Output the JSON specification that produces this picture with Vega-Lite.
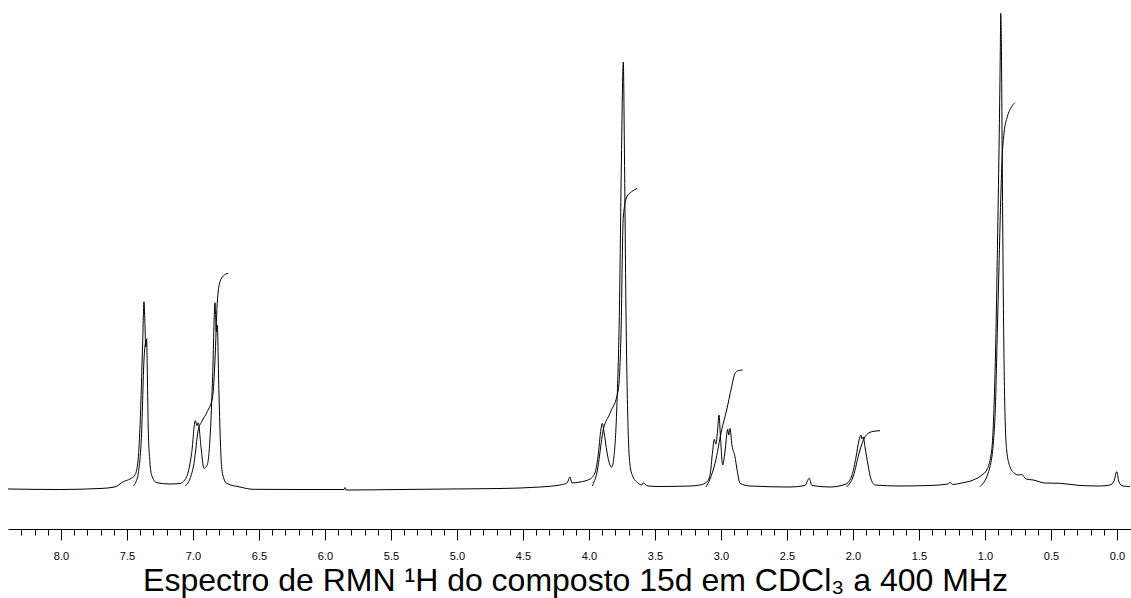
{
  "$schema": "https://vega.github.io/schema/vega-lite/v6.json",
  "width": 1123,
  "height": 529,
  "autosize": {"type": "none"},
  "padding": {"left": 8, "top": 0, "right": 0, "bottom": 69},
  "background": "white",
  "config": {"view": {"stroke": null}, "font": "Liberation Sans"},
  "data": {
    "values": [
      {"trace": "spectrum", "ppm": 8.401, "intensity": -2},
      {"trace": "spectrum", "ppm": 8.008, "intensity": -2.5},
      {"trace": "spectrum", "ppm": 7.704, "intensity": -1.5},
      {"trace": "spectrum", "ppm": 7.591, "intensity": 0},
      {"trace": "spectrum", "ppm": 7.528, "intensity": 5.3},
      {"trace": "spectrum", "ppm": 7.477, "intensity": 8},
      {"trace": "spectrum", "ppm": 7.439, "intensity": 12},
      {"trace": "spectrum", "ppm": 7.417, "intensity": 25},
      {"trace": "spectrum", "ppm": 7.401, "intensity": 60},
      {"trace": "spectrum", "ppm": 7.381, "intensity": 143.7},
      {"trace": "spectrum", "ppm": 7.371, "intensity": 185.3},
      {"trace": "spectrum", "ppm": 7.364, "intensity": 165},
      {"trace": "spectrum", "ppm": 7.358, "intensity": 140},
      {"trace": "spectrum", "ppm": 7.351, "intensity": 147.7},
      {"trace": "spectrum", "ppm": 7.345, "intensity": 110},
      {"trace": "spectrum", "ppm": 7.339, "intensity": 60},
      {"trace": "spectrum", "ppm": 7.326, "intensity": 25},
      {"trace": "spectrum", "ppm": 7.313, "intensity": 12},
      {"trace": "spectrum", "ppm": 7.275, "intensity": 4.3},
      {"trace": "spectrum", "ppm": 7.174, "intensity": 3},
      {"trace": "spectrum", "ppm": 7.098, "intensity": 3.5},
      {"trace": "spectrum", "ppm": 7.048, "intensity": 10.3},
      {"trace": "spectrum", "ppm": 7.010, "intensity": 33.7},
      {"trace": "spectrum", "ppm": 6.982, "intensity": 66.3},
      {"trace": "spectrum", "ppm": 6.970, "intensity": 61.3},
      {"trace": "spectrum", "ppm": 6.960, "intensity": 64.3},
      {"trace": "spectrum", "ppm": 6.939, "intensity": 40.3},
      {"trace": "spectrum", "ppm": 6.917, "intensity": 18.7},
      {"trace": "spectrum", "ppm": 6.892, "intensity": 22},
      {"trace": "spectrum", "ppm": 6.866, "intensity": 60.3},
      {"trace": "spectrum", "ppm": 6.851, "intensity": 110.3},
      {"trace": "spectrum", "ppm": 6.833, "intensity": 184.3},
      {"trace": "spectrum", "ppm": 6.823, "intensity": 155.3},
      {"trace": "spectrum", "ppm": 6.816, "intensity": 162},
      {"trace": "spectrum", "ppm": 6.803, "intensity": 93.7},
      {"trace": "spectrum", "ppm": 6.783, "intensity": 20.3},
      {"trace": "spectrum", "ppm": 6.765, "intensity": 8},
      {"trace": "spectrum", "ppm": 6.745, "intensity": 3.7},
      {"trace": "spectrum", "ppm": 6.644, "intensity": 0},
      {"trace": "spectrum", "ppm": 6.543, "intensity": -2.3},
      {"trace": "spectrum", "ppm": 6.189, "intensity": -2.5},
      {"trace": "spectrum", "ppm": 5.856, "intensity": -2.5},
      {"trace": "spectrum", "ppm": 5.848, "intensity": -0.5},
      {"trace": "spectrum", "ppm": 5.841, "intensity": -3},
      {"trace": "spectrum", "ppm": 5.432, "intensity": -2.5},
      {"trace": "spectrum", "ppm": 5.053, "intensity": -2},
      {"trace": "spectrum", "ppm": 4.674, "intensity": -1.5},
      {"trace": "spectrum", "ppm": 4.371, "intensity": 0},
      {"trace": "spectrum", "ppm": 4.220, "intensity": 2},
      {"trace": "spectrum", "ppm": 4.167, "intensity": 4},
      {"trace": "spectrum", "ppm": 4.144, "intensity": 10},
      {"trace": "spectrum", "ppm": 4.129, "intensity": 4},
      {"trace": "spectrum", "ppm": 4.068, "intensity": 5},
      {"trace": "spectrum", "ppm": 3.992, "intensity": 8},
      {"trace": "spectrum", "ppm": 3.955, "intensity": 14},
      {"trace": "spectrum", "ppm": 3.932, "intensity": 30},
      {"trace": "spectrum", "ppm": 3.909, "intensity": 58},
      {"trace": "spectrum", "ppm": 3.899, "intensity": 63.7},
      {"trace": "spectrum", "ppm": 3.886, "intensity": 55},
      {"trace": "spectrum", "ppm": 3.864, "intensity": 35},
      {"trace": "spectrum", "ppm": 3.841, "intensity": 22},
      {"trace": "spectrum", "ppm": 3.828, "intensity": 19.7},
      {"trace": "spectrum", "ppm": 3.811, "intensity": 30},
      {"trace": "spectrum", "ppm": 3.789, "intensity": 80},
      {"trace": "spectrum", "ppm": 3.769, "intensity": 180},
      {"trace": "spectrum", "ppm": 3.754, "intensity": 330},
      {"trace": "spectrum", "ppm": 3.740, "intensity": 425},
      {"trace": "spectrum", "ppm": 3.731, "intensity": 330},
      {"trace": "spectrum", "ppm": 3.720, "intensity": 180},
      {"trace": "spectrum", "ppm": 3.704, "intensity": 60},
      {"trace": "spectrum", "ppm": 3.689, "intensity": 22},
      {"trace": "spectrum", "ppm": 3.666, "intensity": 10},
      {"trace": "spectrum", "ppm": 3.628, "intensity": 4},
      {"trace": "spectrum", "ppm": 3.600, "intensity": 2},
      {"trace": "spectrum", "ppm": 3.589, "intensity": 4},
      {"trace": "spectrum", "ppm": 3.553, "intensity": 1},
      {"trace": "spectrum", "ppm": 3.462, "intensity": 0.5},
      {"trace": "spectrum", "ppm": 3.235, "intensity": 1},
      {"trace": "spectrum", "ppm": 3.159, "intensity": 2},
      {"trace": "spectrum", "ppm": 3.108, "intensity": 5},
      {"trace": "spectrum", "ppm": 3.083, "intensity": 12},
      {"trace": "spectrum", "ppm": 3.064, "intensity": 35},
      {"trace": "spectrum", "ppm": 3.051, "intensity": 47.7},
      {"trace": "spectrum", "ppm": 3.038, "intensity": 43},
      {"trace": "spectrum", "ppm": 3.027, "intensity": 55},
      {"trace": "spectrum", "ppm": 3.015, "intensity": 72},
      {"trace": "spectrum", "ppm": 3.004, "intensity": 50},
      {"trace": "spectrum", "ppm": 2.987, "intensity": 22},
      {"trace": "spectrum", "ppm": 2.970, "intensity": 35},
      {"trace": "spectrum", "ppm": 2.949, "intensity": 57.7},
      {"trace": "spectrum", "ppm": 2.941, "intensity": 52},
      {"trace": "spectrum", "ppm": 2.932, "intensity": 58.7},
      {"trace": "spectrum", "ppm": 2.917, "intensity": 42},
      {"trace": "spectrum", "ppm": 2.894, "intensity": 30.3},
      {"trace": "spectrum", "ppm": 2.879, "intensity": 18},
      {"trace": "spectrum", "ppm": 2.856, "intensity": 3.7},
      {"trace": "spectrum", "ppm": 2.780, "intensity": 1},
      {"trace": "spectrum", "ppm": 2.477, "intensity": 0},
      {"trace": "spectrum", "ppm": 2.364, "intensity": 1.5},
      {"trace": "spectrum", "ppm": 2.331, "intensity": 8.7},
      {"trace": "spectrum", "ppm": 2.311, "intensity": 1.5},
      {"trace": "spectrum", "ppm": 2.174, "intensity": 0},
      {"trace": "spectrum", "ppm": 2.053, "intensity": 3},
      {"trace": "spectrum", "ppm": 2.007, "intensity": 12},
      {"trace": "spectrum", "ppm": 1.977, "intensity": 30},
      {"trace": "spectrum", "ppm": 1.954, "intensity": 47},
      {"trace": "spectrum", "ppm": 1.939, "intensity": 52},
      {"trace": "spectrum", "ppm": 1.932, "intensity": 48},
      {"trace": "spectrum", "ppm": 1.922, "intensity": 50},
      {"trace": "spectrum", "ppm": 1.909, "intensity": 40},
      {"trace": "spectrum", "ppm": 1.886, "intensity": 22},
      {"trace": "spectrum", "ppm": 1.864, "intensity": 8},
      {"trace": "spectrum", "ppm": 1.833, "intensity": 2},
      {"trace": "spectrum", "ppm": 1.644, "intensity": 1},
      {"trace": "spectrum", "ppm": 1.417, "intensity": 1.5},
      {"trace": "spectrum", "ppm": 1.280, "intensity": 3},
      {"trace": "spectrum", "ppm": 1.265, "intensity": 4.5},
      {"trace": "spectrum", "ppm": 1.242, "intensity": 2.5},
      {"trace": "spectrum", "ppm": 1.189, "intensity": 3.7},
      {"trace": "spectrum", "ppm": 1.089, "intensity": 7},
      {"trace": "spectrum", "ppm": 1.023, "intensity": 12},
      {"trace": "spectrum", "ppm": 0.987, "intensity": 17},
      {"trace": "spectrum", "ppm": 0.949, "intensity": 37},
      {"trace": "spectrum", "ppm": 0.930, "intensity": 87},
      {"trace": "spectrum", "ppm": 0.917, "intensity": 153.7},
      {"trace": "spectrum", "ppm": 0.904, "intensity": 253.7},
      {"trace": "spectrum", "ppm": 0.892, "intensity": 353.7},
      {"trace": "spectrum", "ppm": 0.884, "intensity": 437},
      {"trace": "spectrum", "ppm": 0.881, "intensity": 473.7},
      {"trace": "spectrum", "ppm": 0.877, "intensity": 453.7},
      {"trace": "spectrum", "ppm": 0.869, "intensity": 320},
      {"trace": "spectrum", "ppm": 0.861, "intensity": 187},
      {"trace": "spectrum", "ppm": 0.851, "intensity": 87},
      {"trace": "spectrum", "ppm": 0.836, "intensity": 37},
      {"trace": "spectrum", "ppm": 0.811, "intensity": 20.3},
      {"trace": "spectrum", "ppm": 0.780, "intensity": 14},
      {"trace": "spectrum", "ppm": 0.748, "intensity": 12},
      {"trace": "spectrum", "ppm": 0.722, "intensity": 12.5},
      {"trace": "spectrum", "ppm": 0.689, "intensity": 8},
      {"trace": "spectrum", "ppm": 0.634, "intensity": 7},
      {"trace": "spectrum", "ppm": 0.545, "intensity": 4},
      {"trace": "spectrum", "ppm": 0.432, "intensity": 3.7},
      {"trace": "spectrum", "ppm": 0.280, "intensity": 1.5},
      {"trace": "spectrum", "ppm": 0.129, "intensity": 1},
      {"trace": "spectrum", "ppm": 0.053, "intensity": 2},
      {"trace": "spectrum", "ppm": 0.023, "intensity": 6},
      {"trace": "spectrum", "ppm": 0.002, "intensity": 15.3},
      {"trace": "spectrum", "ppm": -0.015, "intensity": 5},
      {"trace": "spectrum", "ppm": -0.045, "intensity": 1},
      {"trace": "spectrum", "ppm": -0.098, "intensity": 0.5},

      {"trace": "int1", "ppm": 7.452, "intensity": 1},
      {"trace": "int1", "ppm": 7.432, "intensity": 5},
      {"trace": "int1", "ppm": 7.414, "intensity": 13.7},
      {"trace": "int1", "ppm": 7.389, "intensity": 53.7},
      {"trace": "int1", "ppm": 7.371, "intensity": 127},
      {"trace": "int1", "ppm": 7.358, "intensity": 145.3},
      {"trace": "int1", "ppm": 7.346, "intensity": 148.7},

      {"trace": "int2", "ppm": 7.060, "intensity": 1},
      {"trace": "int2", "ppm": 7.023, "intensity": 8},
      {"trace": "int2", "ppm": 6.992, "intensity": 23.7},
      {"trace": "int2", "ppm": 6.960, "intensity": 57},
      {"trace": "int2", "ppm": 6.934, "intensity": 65.3},
      {"trace": "int2", "ppm": 6.892, "intensity": 75.3},
      {"trace": "int2", "ppm": 6.851, "intensity": 90.3},
      {"trace": "int2", "ppm": 6.833, "intensity": 127},
      {"trace": "int2", "ppm": 6.816, "intensity": 183.7},
      {"trace": "int2", "ppm": 6.795, "intensity": 205.3},
      {"trace": "int2", "ppm": 6.770, "intensity": 211},
      {"trace": "int2", "ppm": 6.733, "intensity": 213.7},

      {"trace": "int3", "ppm": 3.975, "intensity": 1},
      {"trace": "int3", "ppm": 3.939, "intensity": 15},
      {"trace": "int3", "ppm": 3.892, "intensity": 57},
      {"trace": "int3", "ppm": 3.841, "intensity": 73.7},
      {"trace": "int3", "ppm": 3.778, "intensity": 97},
      {"trace": "int3", "ppm": 3.758, "intensity": 150},
      {"trace": "int3", "ppm": 3.740, "intensity": 270},
      {"trace": "int3", "ppm": 3.714, "intensity": 290},
      {"trace": "int3", "ppm": 3.677, "intensity": 295.3},
      {"trace": "int3", "ppm": 3.634, "intensity": 298.7},

      {"trace": "int4", "ppm": 3.114, "intensity": 0},
      {"trace": "int4", "ppm": 3.083, "intensity": 8},
      {"trace": "int4", "ppm": 3.045, "intensity": 23.7},
      {"trace": "int4", "ppm": 2.995, "intensity": 57},
      {"trace": "int4", "ppm": 2.957, "intensity": 77},
      {"trace": "int4", "ppm": 2.919, "intensity": 100.3},
      {"trace": "int4", "ppm": 2.894, "intensity": 113.7},
      {"trace": "int4", "ppm": 2.869, "intensity": 116.3},
      {"trace": "int4", "ppm": 2.836, "intensity": 117},

      {"trace": "int5", "ppm": 2.048, "intensity": 0},
      {"trace": "int5", "ppm": 2.000, "intensity": 10},
      {"trace": "int5", "ppm": 1.947, "intensity": 37},
      {"trace": "int5", "ppm": 1.909, "intensity": 50.3},
      {"trace": "int5", "ppm": 1.858, "intensity": 55.3},
      {"trace": "int5", "ppm": 1.795, "intensity": 56.3},

      {"trace": "int6", "ppm": 1.038, "intensity": 0.3},
      {"trace": "int6", "ppm": 0.962, "intensity": 20.3},
      {"trace": "int6", "ppm": 0.924, "intensity": 70.3},
      {"trace": "int6", "ppm": 0.907, "intensity": 153.7},
      {"trace": "int6", "ppm": 0.894, "intensity": 220.3},
      {"trace": "int6", "ppm": 0.881, "intensity": 287},
      {"trace": "int6", "ppm": 0.871, "intensity": 327},
      {"trace": "int6", "ppm": 0.856, "intensity": 353.7},
      {"trace": "int6", "ppm": 0.831, "intensity": 370.3},
      {"trace": "int6", "ppm": 0.798, "intensity": 380.3},
      {"trace": "int6", "ppm": 0.773, "intensity": 384.3}
    ]
  },
  "layer": [
    {
      "mark": {"type": "line", "color": "black", "strokeWidth": 1, "interpolate": "monotone"},
      "encoding": {
        "x": {
          "field": "ppm", "type": "quantitative",
          "scale": {"domain": [-0.106, 8.401], "reverse": true, "nice": false, "zero": false},
          "axis": {
            "orient": "bottom",
            "values": [8.0, 7.5, 7.0, 6.5, 6.0, 5.5, 5.0, 4.5, 4.0, 3.5, 3.0, 2.5, 2.0, 1.5, 1.0, 0.5, 0.0],
            "format": ".1f",
            "grid": false,
            "tickSize": 11, "tickColor": "black", "tickWidth": 1,
            "domainColor": "black", "domainWidth": 1,
            "labelFont": "Liberation Sans", "labelFontSize": 11, "labelColor": "black",
            "labelPadding": 10, "labelFlush": false, "labelOverlap": false,
            "title": "Espectro de RMN ¹H do composto 15d em CDCl₃ a 400 MHz",
            "titleFont": "Liberation Sans", "titleFontSize": 32, "titleFontWeight": "normal",
            "titleColor": "black", "titleBaseline": "alphabetic", "titleAlign": "center",
            "titleX": 567, "titleY": 61
          }
        },
        "y": {
          "field": "intensity", "type": "quantitative",
          "scale": {"domain": [-42, 487], "nice": false, "zero": false},
          "axis": null
        },
        "detail": {"field": "trace", "type": "nominal"}
      }
    },
    {
      "mark": {"type": "line", "opacity": 0},
      "encoding": {
        "x": {
          "field": "ppm", "type": "quantitative",
          "axis": {
            "orient": "bottom",
            "values": [8.3, 8.2, 8.1, 8.0, 7.9, 7.8, 7.7, 7.6, 7.5, 7.4, 7.3, 7.2, 7.1, 7.0, 6.9, 6.8, 6.7, 6.6, 6.5, 6.4, 6.3, 6.2, 6.1, 6.0, 5.9, 5.8, 5.7, 5.6, 5.5, 5.4, 5.3, 5.2, 5.1, 5.0, 4.9, 4.8, 4.7, 4.6, 4.5, 4.4, 4.3, 4.2, 4.1, 4.0, 3.9, 3.8, 3.7, 3.6, 3.5, 3.4, 3.3, 3.2, 3.1, 3.0, 2.9, 2.8, 2.7, 2.6, 2.5, 2.4, 2.3, 2.2, 2.1, 2.0, 1.9, 1.8, 1.7, 1.6, 1.5, 1.4, 1.3, 1.2, 1.1, 1.0, 0.9, 0.8, 0.7, 0.6, 0.5, 0.4, 0.3, 0.2, 0.1, 0.0],
            "labels": false, "domain": false, "grid": false,
            "tickSize": 6, "tickColor": "black", "tickWidth": 1,
            "title": null
          }
        },
        "y": {"field": "intensity", "type": "quantitative", "axis": null},
        "detail": {"field": "trace", "type": "nominal"}
      }
    }
  ],
  "resolve": {"axis": {"x": "independent"}}
}
